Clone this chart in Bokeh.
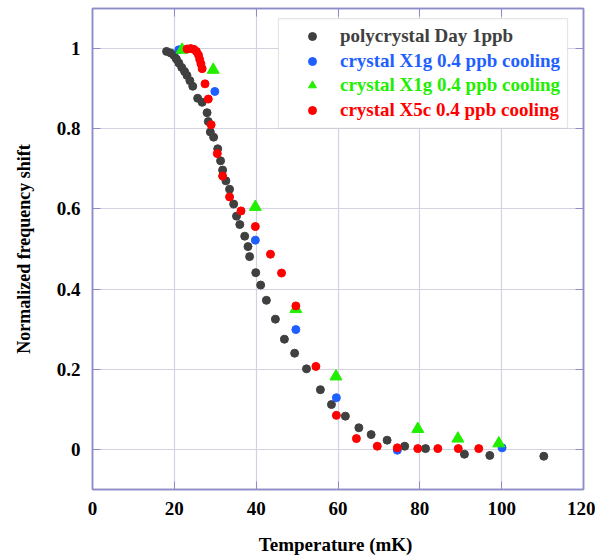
from bokeh.plotting import figure
from bokeh.models import (Range1d, FixedTicker, LinearAxis, Legend, LegendItem,
                          BoxAnnotation, CustomJSTickFormatter)
from bokeh.embed import file_html
from bokeh.resources import INLINE

# ---- data ----
poly_T = [18.1, 19.1, 19.9, 20.5, 21.1, 21.8, 22.5, 23.1, 23.8, 24.5, 25.7, 26.8,
          28.0, 28.3, 28.8, 29.6, 30.6, 31.3, 31.8, 32.6, 33.5, 34.5, 35.2, 36.0,
          37.2, 38.0, 38.4, 39.9, 41.1, 42.5, 44.7, 46.9, 49.4, 52.3, 55.7, 58.4,
          61.8, 65.1, 68.1, 72.0, 76.3, 81.4, 90.9, 97.1, 110.3]
poly_f = [0.993, 0.989, 0.983, 0.974, 0.964, 0.953, 0.943, 0.933, 0.920, 0.906, 0.876, 0.866,
          0.840, 0.818, 0.792, 0.779, 0.750, 0.720, 0.697, 0.670, 0.649, 0.612, 0.582, 0.561,
          0.532, 0.506, 0.481, 0.441, 0.410, 0.372, 0.325, 0.275, 0.240, 0.201, 0.149, 0.112,
          0.083, 0.054, 0.037, 0.023, 0.008, 0.002, -0.012, -0.015, -0.017]

x1g_dot_T = [21.1, 29.9, 39.8, 49.7, 59.6, 74.5, 100.1]
x1g_dot_f = [0.997, 0.893, 0.522, 0.299, 0.129, -0.002, 0.004]

x1g_tri_T = [21.9, 29.5, 39.8, 49.7, 59.5, 79.5, 89.3, 99.3]
x1g_tri_f = [0.997, 0.947, 0.605, 0.350, 0.182, 0.051, 0.027, 0.015]

x5c_T = [23.1, 24.0, 24.8, 25.4, 25.9, 26.2, 26.5, 26.8, 27.5, 28.3, 29.0, 30.5,
         31.8, 33.5, 36.3, 39.8, 43.5, 46.2, 49.7, 54.6, 59.6, 64.5, 69.6, 74.5,
         79.5, 84.4, 89.4, 94.4]
x5c_f = [0.999, 1.000, 0.998, 0.993, 0.984, 0.973, 0.962, 0.950, 0.912, 0.874, 0.810, 0.738,
         0.682, 0.630, 0.595, 0.556, 0.487, 0.440, 0.358, 0.207, 0.085, 0.027, 0.008, 0.004,
         0.002, 0.002, 0.002, 0.002]

x_ticks = [0, 20, 40, 60, 80, 100, 120]
y_ticks = [0, 0.2, 0.4, 0.6, 0.8, 1]

labels = ["polycrystal Day 1ppb", "crystal X1g 0.4 ppb cooling",
          "crystal X1g 0.4 ppb cooling", "crystal X5c 0.4 ppb cooling"]
colors = ["#404040", "#1f5fff", "#22ee00", "#ff0000"]

FONT = "Liberation Serif"
FRAME = "#8c8cc8"
GRID = "#d2d2e2"

p = figure(width=595, height=557, x_range=Range1d(0, 120), y_range=Range1d(-0.1, 1.1),
           output_backend="svg", toolbar_location=None,
           min_border_left=92, min_border_right=12, min_border_top=8, min_border_bottom=67)
p.background_fill_color = "white"
p.border_fill_color = "white"
p.outline_line_color = FRAME
p.outline_line_width = 1.5

p.xaxis.ticker = FixedTicker(ticks=x_ticks)
p.yaxis.ticker = FixedTicker(ticks=y_ticks)
p.xgrid.ticker = FixedTicker(ticks=x_ticks)
p.ygrid.ticker = FixedTicker(ticks=y_ticks)
p.xgrid.grid_line_color = GRID
p.ygrid.grid_line_color = GRID
p.xgrid.grid_line_width = 1.2
p.ygrid.grid_line_width = 1.2

fmt = CustomJSTickFormatter(code="return String(Math.round(tick*10)/10);")
p.xaxis.formatter = fmt
p.yaxis.formatter = fmt

for ax in (p.xaxis[0], p.yaxis[0]):
    ax.axis_line_color = FRAME
    ax.axis_line_width = 1.5
    ax.major_tick_line_color = FRAME
    ax.major_tick_in = 8
    ax.major_tick_out = 0
    ax.minor_tick_line_color = None
    ax.major_label_text_font = FONT
    ax.major_label_text_font_style = "bold"
    ax.major_label_text_font_size = "19px"
    ax.major_label_text_color = "black"
    ax.axis_label_text_font = FONT
    ax.axis_label_text_font_style = "bold"
    ax.axis_label_text_color = "black"

p.xaxis.axis_label = "Temperature  (mK)"
p.xaxis.axis_label_text_font_size = "19px"
p.xaxis.major_label_standoff = 12
p.xaxis.axis_label_standoff = 16
p.yaxis.axis_label = "Normalized frequency shift"
p.yaxis.axis_label_text_font_size = "18px"
p.yaxis.major_label_standoff = 12
p.yaxis.axis_label_standoff = 20

blank = CustomJSTickFormatter(code="return '';")
top_ax = LinearAxis(ticker=FixedTicker(ticks=x_ticks), formatter=blank)
right_ax = LinearAxis(ticker=FixedTicker(ticks=y_ticks), formatter=blank)
for ax in (top_ax, right_ax):
    ax.axis_line_color = FRAME
    ax.axis_line_width = 1.5
    ax.major_tick_line_color = FRAME
    ax.major_tick_in = 8
    ax.major_tick_out = 0
    ax.minor_tick_line_color = None
    ax.major_label_standoff = 0
p.add_layout(top_ax, "above")
p.add_layout(right_ax, "right")

r0 = p.scatter(poly_T, poly_f, size=8, color=colors[0])
r1 = p.scatter(x1g_dot_T, x1g_dot_f, size=8, color=colors[1])
r2 = p.scatter(x1g_tri_T, x1g_tri_f, size=12, marker="triangle", color=colors[2])
r3 = p.scatter(x5c_T, x5c_f, size=8, color=colors[3])

# legend frame
box = BoxAnnotation(left=45.45, right=116.1, top=1.0746, bottom=0.801,
                    fill_color="white", fill_alpha=1.0,
                    line_color="#aaaaaa", line_width=1.2, level="overlay")
p.add_layout(box)

rows_bottom = [441, 416.5, 392, 367.5]
for lab, col, r, yb in zip(labels, colors, [r0, r1, r2, r3], rows_bottom):
    lg = Legend(items=[LegendItem(label=lab, renderers=[r])], location=(210, yb),
                label_text_font=FONT, label_text_font_style="bold",
                label_text_font_size="19px", label_text_color=col,
                border_line_alpha=0, background_fill_alpha=0,
                padding=0, margin=0, glyph_width=20, glyph_height=24,
                label_height=24, label_standoff=18, spacing=0)
    p.add_layout(lg)

open("out.html", "w").write(file_html(p, INLINE))
